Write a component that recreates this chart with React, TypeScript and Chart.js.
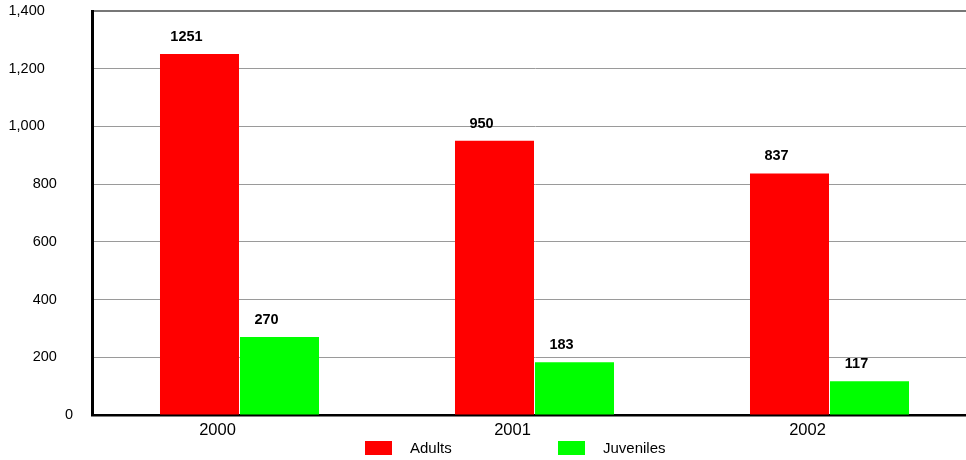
import React, { useEffect, useRef } from "react";
import { Chart, registerables } from "chart.js";

Chart.register(...registerables);

const categories = ["2000", "2001", "2002"];
const adults = [1251, 950, 837];
const juveniles = [270, 183, 117];
const seriesNames = ["Adults", "Juveniles"];
const seriesColors = ["#ff0000", "#00ff00"];
const yTicks = [0, 200, 400, 600, 800, 1000, 1200, 1400];

const FONT = "'Liberation Sans', Arial, Helvetica, sans-serif";

const valueLabels = {
  id: "valueLabels",
  afterDatasetsDraw(chart: any) {
    const ctx = chart.ctx;
    ctx.save();
    ctx.font = `bold 14.5px ${FONT}`;
    ctx.fillStyle = "#000";
    ctx.textAlign = "center";
    ctx.textBaseline = "middle";
    chart.data.datasets.forEach((ds: any, i: number) => {
      const meta = chart.getDatasetMeta(i);
      meta.data.forEach((el: any, j: number) => {
        ctx.fillText(String(ds.data[j]), el.x - 13, el.y - 17);
      });
    });
    ctx.restore();
  },
};

export default function App() {
  const ref = useRef<HTMLCanvasElement | null>(null);
  useEffect(() => {
    if (!ref.current) return;
    const chart = new Chart(ref.current, {
      type: "bar",
      data: {
        labels: categories,
        datasets: [
          { label: seriesNames[0], data: adults, backgroundColor: seriesColors[0] },
          { label: seriesNames[1], data: juveniles, backgroundColor: seriesColors[1] },
        ],
      },
      options: {
        animation: false,
        responsive: true,
        maintainAspectRatio: false,
        layout: { padding: { top: 11, right: 0, left: 0, bottom: 0 } },
        datasets: { bar: { categoryPercentage: 0.5424, barPercentage: 0.9875 } },
        plugins: {
          legend: { display: false },
          tooltip: { enabled: false },
        },
        scales: {
          x: {
            grid: { display: false, drawTicks: false },
            border: { display: true, color: "#000", width: 2.5 },
            ticks: {
              color: "#000",
              font: { family: FONT, size: 16.5 },
              padding: 6,
              labelOffset: -22,
            },
            afterFit(scale: any) {
              scale.height = 45;
              scale.paddingTop = 0;
              scale.paddingBottom = 0;
            },
          },
          y: {
            min: 0,
            max: 1400,
            afterBuildTicks(scale: any) {
              scale.ticks = yTicks.map((v) => ({ value: v }));
            },
            grid: {
              drawTicks: false,
              color: (c: any) => (c.tick && c.tick.value === 1400 ? "#777" : "#9a9a9a"),
              lineWidth: (c: any) => (c.tick && c.tick.value === 1400 ? 2 : 1),
            },
            border: { display: true, color: "#000", width: 3 },
            ticks: {
              color: "#000",
              padding: 19,
              font: { family: FONT, size: 14.5 },
              callback: (v: any) => {
                const s = Number(v).toLocaleString("en-US");
                const n = s.length === 1 ? 0 : s.length === 3 ? 4 : 7;
                return s + " ".repeat(n);
              },
            },
            afterFit(scale: any) {
              scale.width = 92;
              scale.paddingTop = 0;
              scale.paddingBottom = 0;
            },
          },
        },
      },
      plugins: [valueLabels],
    });
    return () => chart.destroy();
  }, []);

  const legendItem = (i: number, left: number) => (
    <div
      key={i}
      style={{
        position: "absolute",
        left,
        top: 440,
        height: 15,
        display: "flex",
        alignItems: "center",
        fontFamily: FONT,
        fontSize: 15,
        color: "#000",
        whiteSpace: "nowrap",
      }}
    >
      <span style={{ display: "inline-block", width: 27, height: 14, background: seriesColors[i], marginRight: 18 }} />
      <span>{seriesNames[i]}</span>
    </div>
  );

  return (
    <div
      style={{
        position: "fixed",
        left: 0,
        top: 0,
        width: 966,
        height: 460,
        overflow: "hidden",
        background: "#fff",
      }}
    >
      <div style={{ position: "absolute", left: 0, top: 0, width: 977, height: 460 }}>
        <canvas ref={ref} />
      </div>
      {legendItem(0, 365)}
      {legendItem(1, 558)}
    </div>
  );
}
